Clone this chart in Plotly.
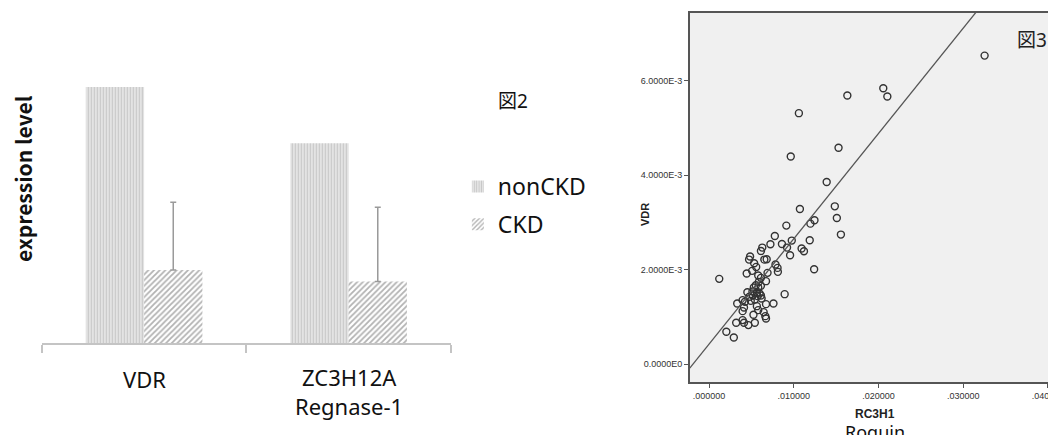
import plotly.graph_objects as go

W, H = 1056, 435
OFF = 8  # default page body margin

# ---------------- data ----------------
genes = ["VDR", "ZC3H12A"]
gene_aliases = ["", "Regnase-1"]
noncdk_vals = [1.00, 0.78]
ckd_vals = [0.285, 0.24]
ckd_err = [0.265, 0.29]

rc3h1 = [0.03252, 0.01632, 0.02056, 0.02104, 0.0106, 0.01528, 0.00964, 0.01388,
         0.01072, 0.01484, 0.01508, 0.01556, 0.01244, 0.01196, 0.00912, 0.01188,
         0.00976, 0.0092, 0.0086, 0.01092, 0.0112, 0.00956, 0.0124, 0.00776,
         0.00724, 0.00628, 0.00612, 0.00652, 0.0068, 0.00484, 0.00472, 0.00532,
         0.00556, 0.00784, 0.00808, 0.00812, 0.0069, 0.00444, 0.00508, 0.0058,
         0.00612, 0.00588, 0.00672, 0.0012, 0.00528, 0.0058, 0.00612, 0.00564,
         0.00452, 0.00476, 0.00516, 0.00572, 0.00612, 0.00892, 0.00396, 0.00492,
         0.0054, 0.00332, 0.00672, 0.0076, 0.00564, 0.00412, 0.00396, 0.0058,
         0.00644, 0.00524, 0.00664, 0.00672, 0.00396, 0.00412, 0.0032, 0.0054,
         0.00464, 0.00204, 0.00292, 0.00424, 0.00512, 0.00552, 0.00596, 0.0062]
vdr = [0.006528, 0.005683, 0.005838, 0.005662, 0.00531, 0.004577, 0.004394, 0.003852,
       0.003282, 0.003338, 0.003092, 0.00274, 0.003042, 0.002972, 0.00293, 0.00262,
       0.002613, 0.002465, 0.002542, 0.002444, 0.002387, 0.002303, 0.002007, 0.002711,
       0.002535, 0.002465, 0.002394, 0.002211, 0.002218, 0.002275, 0.002211, 0.002134,
       0.002056, 0.002106, 0.002035, 0.001951, 0.00193, 0.001915, 0.001972, 0.001873,
       0.001824, 0.00174, 0.001754, 0.001803, 0.00162, 0.00162, 0.001655, 0.001507,
       0.001521, 0.001423, 0.001451, 0.001437, 0.001451, 0.001479, 0.001352, 0.001338,
       0.001366, 0.001282, 0.001268, 0.001282, 0.001225, 0.001197, 0.00112, 0.001141,
       0.001099, 0.001042, 0.001014, 0.000965, 0.00093, 0.000873, 0.000873, 0.000873,
       0.000824, 0.000683, 0.000563, 0.001317, 0.001535, 0.001669, 0.001493, 0.001387]

fit_intercept = 0.000423
fit_slope = 0.2229

x2_ticks = [0.0, 0.01, 0.02, 0.03, 0.04]
x2_ticktext = [".000000", ".010000", ".020000", ".030000", ".040000"]
y2_ticks = [0.0, 0.002, 0.004, 0.006]
y2_ticktext = ["0.0000E0", "2.0000E-3", "4.0000E-3", "6.0000E-3"]

# ---------------- helpers (window pixels -> paper) ----------------
def px(x):
    return (x - OFF) / W

def py(y):
    return 1 - (y - OFF) / H

x2_range = [-0.00228, 0.0413]
y2_range = [-0.00038, 0.00743]

LAT = "Noto Sans, Noto Sans CJK JP"
JP = "Noto Sans CJK JP"

fig = go.Figure()

fig.add_trace(go.Bar(
    x=genes, y=noncdk_vals, name="nonCKD", xaxis="x", yaxis="y",
    marker=dict(color="#e4e4e4", line=dict(width=0),
                pattern=dict(shape="|", fgcolor="#a6a6a6", bgcolor="#e8e8e8",
                             size=3, solidity=0.45)),
    legendgroup="a",
))
fig.add_trace(go.Bar(
    x=genes, y=ckd_vals, name="CKD", xaxis="x", yaxis="y",
    marker=dict(color="#ffffff", line=dict(width=0),
                pattern=dict(shape="/", fgcolor="#666666", bgcolor="#ffffff",
                             size=4, solidity=0.45)),
    error_y=dict(type="data", symmetric=False, array=ckd_err,
                 arrayminus=[0] * len(ckd_err), color="#9a9a9a",
                 thickness=1.5, width=3),
    legendgroup="b",
))

fig.add_trace(go.Scatter(
    x=rc3h1, y=vdr, mode="markers", xaxis="x2", yaxis="y2", showlegend=False,
    marker=dict(symbol="circle-open", size=7, color="#333333",
                line=dict(width=1.4, color="#333333")),
))
fit_x = [x2_range[0], x2_range[1]]
fit_y = [fit_intercept + fit_slope * v for v in fit_x]
fig.add_trace(go.Scatter(
    x=fit_x, y=fit_y, mode="lines", xaxis="x2", yaxis="y2", showlegend=False,
    line=dict(color="#555555", width=1.3), cliponaxis=True,
))

# right panel background
shapes = [dict(type="rect", xref="paper", yref="paper",
               x0=px(693), x1=1.05, y0=py(382), y1=py(13),
               fillcolor="#f0f0f0", line=dict(width=0), layer="below")]

annotations = [
    dict(text="<b>expression level</b>", x=px(23), y=py(178), xref="paper", yref="paper",
         textangle=-90, showarrow=False, font=dict(family=JP, size=21, color="#111"),
         xanchor="center", yanchor="middle"),
    dict(text="図2", x=px(515), y=py(101), xref="paper", yref="paper", showarrow=False,
         font=dict(family=LAT, size=19, color="#111"), xanchor="center", yanchor="middle"),
    dict(text="図3", x=px(1037), y=py(40), xref="paper", yref="paper", showarrow=False,
         font=dict(family=LAT, size=19, color="#222"), xanchor="center", yanchor="middle"),
    dict(text="<b>VDR</b>", x=px(648), y=py(214), xref="paper", yref="paper",
         textangle=-90, showarrow=False,
         font=dict(family="Liberation Sans", size=11, color="#222"),
         xanchor="center", yanchor="middle"),
    dict(text="<b>RC3H1</b>", x=px(879), y=py(414), xref="paper", yref="paper",
         showarrow=False, font=dict(family="Liberation Sans", size=12, color="#222"),
         xanchor="center", yanchor="middle"),
    dict(text="Roguin", x=px(879), y=py(432), xref="paper", yref="paper",
         showarrow=False, font=dict(family=LAT, size=18, color="#111"),
         xanchor="center", yanchor="middle"),
]
# category labels (gene name, with alias on a second line)
for g, alias in zip(genes, gene_aliases):
    if alias:
        annotations.append(dict(text=g + "<br>" + alias, x=g, xref="x", y=py(391),
                                yref="paper", showarrow=False,
                                xanchor="center", yanchor="middle",
                                font=dict(family=LAT, size=22, color="#111")))
    else:
        annotations.append(dict(text=g, x=g, xref="x", y=py(379), yref="paper",
                                showarrow=False, xanchor="center", yanchor="middle",
                                font=dict(family=LAT, size=22, color="#111")))

fig.update_layout(
    width=W, height=H,
    margin=dict(l=0, r=0, t=0, b=0),
    paper_bgcolor="white", plot_bgcolor="rgba(0,0,0,0)",
    barmode="group", bargap=0.43, bargroupgap=0,
    showlegend=True,
    legend=dict(x=px(460), y=py(165), xanchor="left", yanchor="top",
                font=dict(family=LAT, size=23, color="#111"),
                tracegroupgap=5, traceorder="grouped",
                bgcolor="rgba(0,0,0,0)"),
    xaxis=dict(domain=[px(42), px(453)], type="category", tickson="boundaries",
               showline=True, linecolor="#c4c4c4", linewidth=1.5,
               ticks="outside", ticklen=8, tickcolor="#c4c4c4", tickwidth=1.5,
               showticklabels=False,
               showgrid=False, zeroline=False, fixedrange=True),
    yaxis=dict(domain=[py(343), py(60)], range=[0, 283 / 256],
               showticklabels=False, showgrid=False, zeroline=False,
               showline=False, ticks=""),
    xaxis2=dict(domain=[px(693), 1.0], range=x2_range, anchor="y2",
                tickvals=x2_ticks, ticktext=x2_ticktext, ticklabeloverflow="allow",
                showline=True, mirror=True, linecolor="#555555", linewidth=1.5,
                ticks="outside", ticklen=4, tickcolor="#555555",
                tickfont=dict(family="Liberation Sans", size=9, color="#333"),
                showgrid=False, zeroline=False),
    yaxis2=dict(domain=[py(382), py(13)], range=y2_range, anchor="x2",
                tickvals=y2_ticks, ticktext=y2_ticktext,
                showline=True, linecolor="#555555", linewidth=1.5,
                ticks="outside", ticklen=4, tickcolor="#555555",
                tickfont=dict(family="Liberation Sans", size=9, color="#333"),
                showgrid=False, zeroline=False),
    shapes=shapes,
    annotations=annotations,
)

fig.write_html("out.html")
